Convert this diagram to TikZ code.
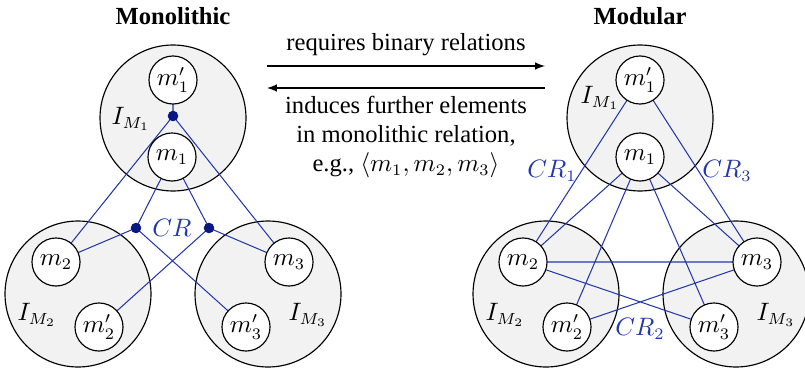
\documentclass[tikz,border=0pt]{standalone}
\usepackage{fontspec}
\setmainfont{Liberation Serif}
\begin{document}
\begin{tikzpicture}[x=0.435pt,y=-0.435pt,
  font=\fontsize{10.7}{12.6}\selectfont,
  bigc/.style={circle,draw=black,fill=black!5,line width=0.5pt,minimum size=63.5pt,inner sep=0pt},
  elem/.style={circle,draw=black,fill=white,line width=0.5pt,minimum size=20.9pt,inner sep=0pt},
  rel/.style={draw=relblue,line width=0.45pt},
  dotn/.style={circle,fill=dotblue,inner sep=0pt,minimum size=4.6pt},
  lbl/.style={inner sep=0pt},
  crl/.style={text=relblue,inner sep=0pt},
  arr/.style={draw=black,line width=0.5pt,-latex}]
\definecolor{relblue}{RGB}{35,55,170}
\definecolor{dotblue}{RGB}{10,25,130}
\useasboundingbox (0,0) rectangle (805,371);

% ---------- Monolithic ----------
\node[lbl,font=\fontsize{10.7}{12.6}\selectfont\bfseries] (t1) at (173,16) {Monolithic};
\node[bigc] (B1) at (173,118) {};
\node[bigc] (B2) at (78,294) {};
\node[bigc] (B3) at (268,294) {};
\node[lbl] (i1) at (131,119) {$I_{M_1}$};
\node[lbl] (i2) at (37,315) {$I_{M_2}$};
\node[lbl] (i3) at (308,315) {$I_{M_3}$};
\coordinate (e1p) at (173,80);
\coordinate (e1) at (172,157);
\coordinate (e2) at (56,262);
\coordinate (e2p) at (99,327);
\coordinate (e3) at (289,262);
\coordinate (e3p) at (246,327);
\coordinate (j1) at (173,116);
\coordinate (dl) at (136,228);
\coordinate (dr) at (209,228);
\node[crl] (cr) at (172,228) {$CR$};
\path[rel] (e1p) -- (j1) (j1) -- (e2) (j1) -- (e3)
  (e1) -- (dl) (dl) -- (e2) (dl) -- (e3p)
  (e1) -- (dr) (dr) -- (e3) (dr) -- (e2p);
\node[dotn] (dj1) at (j1) {};
\node[dotn] (ddl) at (dl) {};
\node[dotn] (ddr) at (dr) {};
\node[elem] (m1p) at (e1p) {$m_1'$};
\node[elem] (m1) at (e1) {$m_1$};
\node[elem] (m2) at (e2) {$m_2$};
\node[elem] (m2p) at (e2p) {$m_2'$};
\node[elem] (m3) at (e3) {$m_3$};
\node[elem] (m3p) at (e3p) {$m_3'$};

% ---------- Arrows ----------
\coordinate (aL1) at (267,66);
\coordinate (aR1) at (545,66);
\coordinate (aL2) at (267,88);
\coordinate (aR2) at (545,88);
\draw[arr] (aL1) -- (aR1);
\draw[arr] (aR2) -- (aL2);
\node[lbl] (tx1) at (406,45) {requires binary relations};
\node[lbl,align=center] (tx2) at (406,137) {induces further elements\\ in monolithic relation,\\ e.g., $\langle m_1, m_2, m_3\rangle$};

% ---------- Modular ----------
\node[lbl,font=\fontsize{10.7}{12.6}\selectfont\bfseries] (t2) at (640,16) {Modular};
\node[bigc] (C1) at (640,118) {};
\node[bigc] (C2) at (546,294) {};
\node[bigc] (C3) at (736,294) {};
\node[lbl] (k1) at (600,98) {$I_{M_1}$};
\node[lbl] (k2) at (505,315) {$I_{M_2}$};
\node[lbl] (k3) at (776,315) {$I_{M_3}$};
\coordinate (f1p) at (640,80);
\coordinate (f1) at (640,157);
\coordinate (f2) at (523,262);
\coordinate (f2p) at (567,327);
\coordinate (f3) at (757,262);
\coordinate (f3p) at (714,327);
\path[rel] (f1p) -- (f2) (f1p) -- (f3)
  (f1) -- (f2) (f1) -- (f3) (f1) -- (f2p) (f1) -- (f3p)
  (f2) -- (f3) (f2) -- (f3p) (f3) -- (f2p);
\node[crl] (cr1) at (552,171) {$CR_1$};
\node[crl] (cr3) at (727,171) {$CR_3$};
\node[crl] (cr2) at (640,329) {$CR_2$};
\node[elem] (n1p) at (f1p) {$m_1'$};
\node[elem] (n1) at (f1) {$m_1$};
\node[elem] (n2) at (f2) {$m_2$};
\node[elem] (n2p) at (f2p) {$m_2'$};
\node[elem] (n3) at (f3) {$m_3$};
\node[elem] (n3p) at (f3p) {$m_3'$};
\end{tikzpicture}
\end{document}
